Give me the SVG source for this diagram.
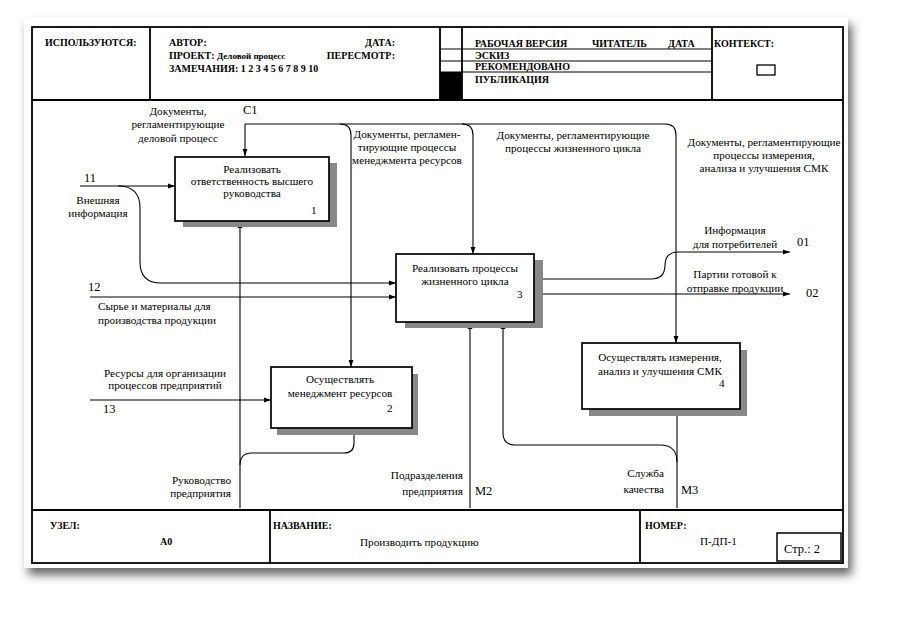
<svg xmlns="http://www.w3.org/2000/svg" width="901" height="623" viewBox="0 0 901 623">
<defs>
<filter id="pageShadow" x="-5%" y="-5%" width="115%" height="115%">
<feGaussianBlur in="SourceAlpha" stdDeviation="5"/>
<feOffset dx="4" dy="7" result="b"/>
<feFlood flood-color="#444" flood-opacity="0.8"/>
<feComposite in2="b" operator="in"/>
<feMerge><feMergeNode/><feMergeNode in="SourceGraphic"/></feMerge>
</filter>
<marker id="arr" viewBox="0 0 10 10" refX="10" refY="5" markerWidth="7" markerHeight="7" orient="auto" markerUnits="userSpaceOnUse">
<path d="M0,1.5 L10,5 L0,8.5 z" fill="#000"/>
</marker>
<style>
text{font-family:"Liberation Serif","Times New Roman",serif;fill:#000}
.h{font-size:10px;font-weight:bold}
.t{font-size:11.2px}
.n{font-size:12.5px}
.c{text-anchor:middle}
.e{text-anchor:end}
.box{fill:#fff;stroke:#000;stroke-width:1.7}
.sh{fill:#888}
.ln{fill:none;stroke:#000;stroke-width:1.1}
.fr{fill:none;stroke:#000;stroke-width:1.8}
</style>
</defs>
<rect x="0" y="0" width="901" height="623" fill="#fff"/>
<rect x="24" y="17" width="824" height="551" fill="#fff" filter="url(#pageShadow)"/>

<g id="frame">
<rect class="fr" x="32" y="27" width="811" height="536"/>
<line class="fr" x1="32" y1="100" x2="843" y2="100"/>
<line class="fr" x1="150" y1="27" x2="150" y2="100"/>
<line class="fr" x1="440" y1="27" x2="440" y2="100"/>
<line class="fr" x1="462" y1="27" x2="462" y2="100"/>
<line class="fr" x1="712" y1="27" x2="712" y2="100"/>
<line class="ln" x1="440" y1="49" x2="712" y2="49"/>
<line class="ln" x1="440" y1="61" x2="712" y2="61"/>
<line class="ln" x1="440" y1="72" x2="712" y2="72"/>
<rect x="440" y="72" width="22" height="28" fill="#000"/>
<rect x="757" y="65" width="18" height="10" fill="#fff" stroke="#000" stroke-width="1.3"/>
<line class="fr" x1="32" y1="510" x2="843" y2="510"/>
<line class="fr" x1="270" y1="510" x2="270" y2="563"/>
<line class="fr" x1="640" y1="510" x2="640" y2="563"/>
<rect x="777" y="533" width="64" height="28" fill="#fff" stroke="#000" stroke-width="1.5"/>
<text class="h" x="45" y="46">ИСПОЛЬЗУЮТСЯ:</text>
<text class="h" x="169" y="46">АВТОР:</text>
<text class="h e" x="395" y="46">ДАТА:</text>
<text class="h" x="169" y="59">ПРОЕКТ: <tspan font-size="9px">Деловой процесс</tspan></text>
<text class="h e" x="395" y="59">ПЕРЕСМОТР:</text>
<text class="h" x="169" y="72">ЗАМЕЧАНИЯ: 1 2 3 4 5 6 7 8 9 10</text>
<text class="h" x="475" y="47">РАБОЧАЯ ВЕРСИЯ</text>
<text class="h" x="592" y="47">ЧИТАТЕЛЬ</text>
<text class="h" x="668" y="47">ДАТА</text>
<text class="h" x="475" y="59">ЭСКИЗ</text>
<text class="h" x="475" y="70">РЕКОМЕНДОВАНО</text>
<text class="h" x="475" y="83">ПУБЛИКАЦИЯ</text>
<text class="h" x="714" y="47">КОНТЕКСТ:</text>
<text class="h" x="50" y="529">УЗЕЛ:</text>
<text class="h" x="160" y="545">А0</text>
<text class="h" x="273" y="529">НАЗВАНИЕ:</text>
<text class="t" x="360" y="546">Производить продукцию</text>
<text class="h" x="645" y="529">НОМЕР:</text>
<text class="t" x="700" y="545">П-ДП-1</text>
<text class="n" x="784" y="553">Стр.: 2</text>
</g>

<g id="connectors">
<path class="ln" d="M245,124 V156" marker-end="url(#arr)"/>
<path class="ln" d="M245,124 H665 Q676,124 676,135 V343" marker-end="url(#arr)"/>
<path class="ln" d="M340,124 Q351,124 351,135 V367" marker-end="url(#arr)"/>
<path class="ln" d="M462,124 Q473,124 473,135 V254" marker-end="url(#arr)"/>
<path class="ln" d="M80,186 H175" marker-end="url(#arr)"/>
<path class="ln" d="M118,186 Q140,186 140,208 V262 Q140,283 161,283 H396" marker-end="url(#arr)"/>
<path class="ln" d="M90,297 H396" marker-end="url(#arr)"/>
<path class="ln" d="M90,400 H271" marker-end="url(#arr)"/>
<path class="ln" d="M240,508 V221" marker-end="url(#arr)"/>
<path class="ln" d="M240,465 Q240,453 252,453 H344 Q354,453 354,443 V428" marker-end="url(#arr)"/>
<path class="ln" d="M470,508 V322" marker-end="url(#arr)"/>
<path class="ln" d="M677,508 V409" marker-end="url(#arr)"/>
<path class="ln" d="M677,462 Q677,445 660,445 H515 Q503,445 503,433 V322" marker-end="url(#arr)"/>
<path class="ln" d="M534,279 H651 Q665,279 665,265 Q665,252 679,252 H790" marker-end="url(#arr)"/>
<path class="ln" d="M534,294 H790" marker-end="url(#arr)"/>
<text class="n" x="243" y="114">C1</text>
<text class="t c" x="178" y="115">Документы,</text>
<text class="t c" x="178" y="128">регламентирующие</text>
<text class="t c" x="178" y="142">деловой процесс</text>
<text class="t c" x="407" y="138">Документы, регламен-</text>
<text class="t c" x="407" y="151">тирующие процессы</text>
<text class="t c" x="407" y="164">менеджмента ресурсов</text>
<text class="t c" x="573" y="139">Документы, регламентирующие</text>
<text class="t c" x="573" y="152">процессы жизненного цикла</text>
<text class="t c" x="764" y="146">Документы, регламентирующие</text>
<text class="t c" x="764" y="159">процессы измерения,</text>
<text class="t c" x="764" y="172">анализа и улучшения СМК</text>
<text class="n" x="84" y="182">11</text>
<text class="t c" x="98" y="204">Внешняя</text>
<text class="t c" x="98" y="217">информация</text>
<text class="n" x="88" y="291">12</text>
<text class="t" x="98" y="310">Сырье и материалы для</text>
<text class="t" x="98" y="324">производства продукции</text>
<text class="t c" x="165" y="377">Ресурсы для организации</text>
<text class="t c" x="165" y="389">процессов предприятий</text>
<text class="n" x="103" y="413">13</text>
<text class="t e" x="231" y="484">Руководство</text>
<text class="t e" x="231" y="497">предприятия</text>
<text class="t e" x="463" y="479">Подразделения</text>
<text class="t e" x="463" y="495">предприятия</text>
<text class="n" x="475" y="495">M2</text>
<text class="t e" x="664" y="477">Служба</text>
<text class="t e" x="664" y="493">качества</text>
<text class="n" x="681" y="494">M3</text>
<text class="t c" x="735" y="234">Информация</text>
<text class="t c" x="735" y="248">для потребителей</text>
<text class="n" x="797" y="246">01</text>
<text class="t c" x="735" y="278">Партии готовой к</text>
<text class="t c" x="735" y="292">отправке продукции</text>
<text class="n" x="806" y="297">02</text>
</g>

<g id="node1">
<rect class="sh" x="183" y="163" width="154" height="64"/>
<rect class="box" x="175" y="157" width="154" height="64"/>
<text class="t c" x="252" y="173">Реализовать</text>
<text class="t c" x="252" y="185">ответственность высшего</text>
<text class="t c" x="252" y="197">руководства</text>
<text class="t" x="311" y="214">1</text>
</g>
<g id="node2">
<rect class="sh" x="277" y="374" width="141" height="61"/>
<rect class="box" x="271" y="367" width="141" height="61"/>
<text class="t c" x="340" y="383">Осуществлять</text>
<text class="t c" x="340" y="397">менеджмент ресурсов</text>
<text class="t" x="387" y="412">2</text>
</g>
<g id="node3">
<rect class="sh" x="405" y="260" width="138" height="68"/>
<rect class="box" x="396" y="254" width="138" height="68"/>
<text class="t c" x="465" y="272">Реализовать процессы</text>
<text class="t c" x="465" y="285">жизненного цикла</text>
<text class="t" x="517" y="298">3</text>
</g>
<g id="node4">
<rect class="sh" x="589" y="350" width="158" height="66"/>
<rect class="box" x="582" y="343" width="158" height="66"/>
<text class="t c" x="660" y="361">Осуществлять измерения,</text>
<text class="t c" x="660" y="375">анализ и улучшения СМК</text>
<text class="t" x="719" y="387">4</text>
</g>
</svg>
